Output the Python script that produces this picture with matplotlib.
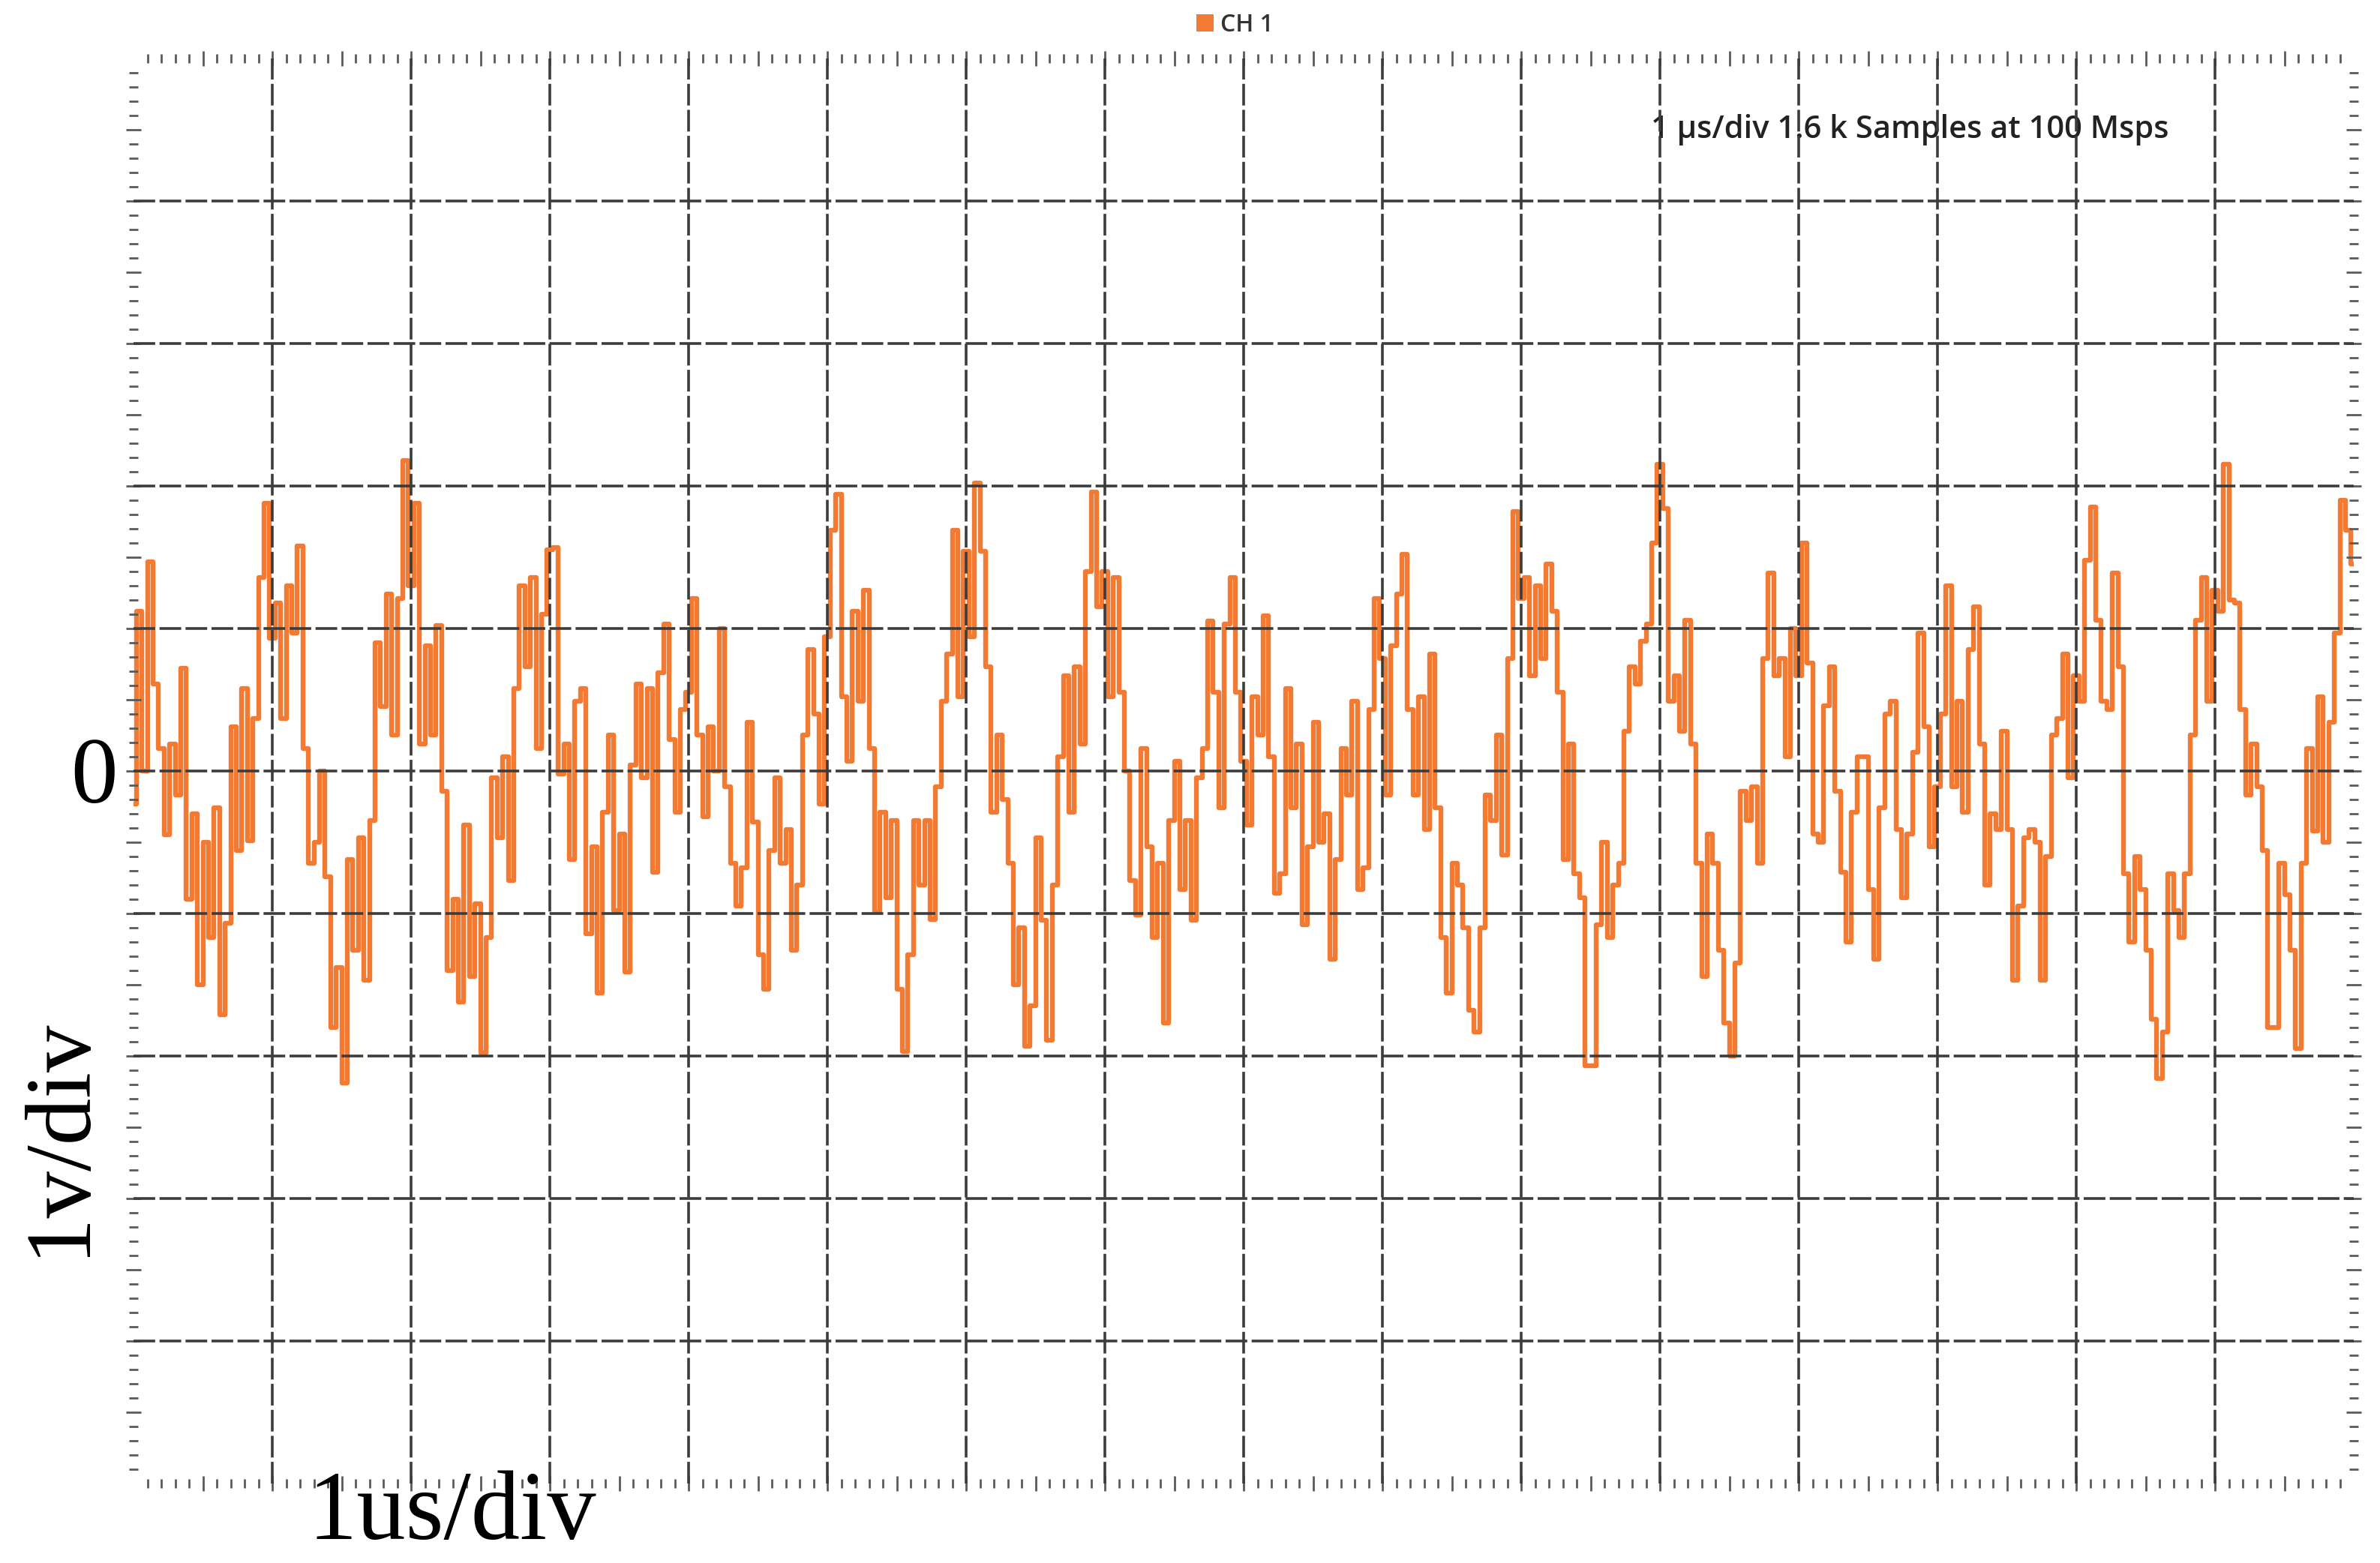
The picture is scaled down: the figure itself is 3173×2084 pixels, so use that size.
import matplotlib
matplotlib.use('Agg')
import matplotlib.pyplot as plt
import numpy as np
from matplotlib.patches import Patch
from matplotlib.ticker import FixedLocator

# CH 1 samples, volts, 25 readings per 1 us division
ch1_0_4us = [
    -0.23, 1.12, 0.0, 1.47, 0.61, 0.16, -0.45, 0.19, -0.17, 0.72, -0.9, -0.3, -1.5,
    -0.5, -1.17, -0.26, -1.71, -1.07, 0.31, -0.56, 0.58, -0.49, 0.37, 1.36, 1.88,
    0.93, 1.18, 0.37, 1.3, 0.97, 1.58, 0.16, -0.65, -0.5, 0.0, -0.74, -1.8, -1.38,
    -2.19, -0.62, -1.26, -0.47, -1.47, -0.35, 0.9, 0.45, 1.24, 0.25, 1.21, 2.18,
    1.3, 1.88, 0.19, 0.88, 0.25, 1.02, -0.14, -1.4, -0.9, -1.62, -0.38, -1.44, -0.93,
    -1.98, -1.17, -0.05, -0.47, 0.1, -0.77, 0.58, 1.3, 0.73, 1.36, 0.16, 1.1,
    1.55, 1.57, -0.02, 0.19, -0.62, 0.49, 0.58, -1.14, -0.53, -1.56, -0.29, 0.25, -0.98,
    -0.44, -1.41, 0.04, 0.61, -0.05, 0.58, -0.71, 0.69, 1.03, 0.22, -0.29, 0.43,
]
ch1_4_8us = [
    0.55, 1.21, 0.25, -0.32, 0.31, 0.0, 1.0, -0.11, -0.65, -0.95, -0.68, 0.34, -0.36,
    -1.29, -1.53, -0.56, -0.05, -0.65, -0.41, -1.26, -0.8, 0.25, 0.85, 0.4, -0.23,
    0.94, 1.69, 1.94, 0.52, 0.07, 1.12, 0.49, 1.27, 0.16, -0.99, -0.29, -0.89, -0.35,
    -1.53, -1.97, -1.29, -0.35, -0.8, -0.35, -1.04, -0.11, 0.49, 0.82, 1.69, 0.52,
    1.54, 0.94, 2.02, 1.54, 0.73, -0.29, 0.25, -0.2, -0.65, -1.5, -1.1, -1.93, -1.65,
    -0.47, -1.05, -1.89, -0.8, 0.1, 0.67, -0.29, 0.73, 0.19, 1.4, 1.96, 1.15,
    1.4, 0.52, 1.36, 0.55, 0.0, -0.77, -1.01, 0.16, -0.53, -1.17, -0.65, -1.77, -0.35,
    0.07, -0.83, -0.35, -1.05, -0.05, 0.16, 1.05, 0.55, -0.26, 1.03, 1.36, 0.55,
]
ch1_8_12us = [
    0.07, -0.38, 0.52, 0.25, 1.09, 0.1, -0.86, -0.72, 0.58, -0.26, 0.19, -1.08, -0.53,
    0.34, -0.5, -0.3, -1.32, -0.62, 0.16, -0.17, 0.49, -0.83, -0.68, 0.43, 1.21,
    0.79, -0.17, 0.88, 1.24, 1.52, 0.43, -0.17, 0.52, -0.41, 0.82, -0.26, -1.17, -1.56,
    -0.65, -0.8, -1.1, -1.68, -1.83, -1.1, -0.17, -0.35, 0.25, -0.59, 0.79, 1.82,
    1.21, 1.36, 0.67, 1.3, 0.79, 1.45, 1.12, 0.55, -0.62, 0.19, -0.72, -0.89, -2.07,
    -2.07, -1.08, -0.5, -1.17, -0.8, -0.65, 0.28, 0.73, 0.61, 0.91, 1.03, 1.6,
    2.15, 1.84, 0.49, 0.67, 0.28, 1.06, 0.19, -0.65, -1.44, -0.44, -0.65, -1.26, -1.77,
    -2.0, -1.35, -0.14, -0.35, -0.11, -0.65, 0.79, 1.39, 0.67, 0.79, 0.1, 1.0,
]
ch1_12_16us = [
    0.67, 1.6, 0.76, -0.44, -0.5, 0.46, 0.73, -0.14, -0.71, -1.2, -0.29, 0.1, 0.1,
    -0.83, -1.32, -0.26, 0.4, 0.49, -0.41, -0.89, -0.44, 0.13, 0.97, 0.31, -0.53,
    -0.11, 0.4, 1.3, -0.11, 0.49, -0.29, 0.85, 1.15, 0.19, -0.8, -0.3, -0.41, 0.28,
    -0.41, -1.47, -0.95, -0.47, -0.41, -0.5, -1.47, -0.6, 0.25, 0.37, 0.82, -0.05,
    0.67, 0.49, 1.48, 1.85, 1.06, 0.49, 0.43, 1.39, 0.73, -0.72, -1.2, -0.6, -0.83,
    -1.26, -1.74, -2.16, -1.83, -0.72, -0.98, -1.17, -0.72, 0.25, 1.06, 1.36, 0.49,
    1.27, 1.12, 2.15, 1.2, 1.18, 0.43, -0.17, 0.19, -0.11, -0.56, -1.8, -1.8, -0.65,
    -0.87, -1.26, -1.95, -0.65, 0.16, -0.42, 0.52, -0.5, 0.34, 0.97, 1.9, 1.69, 1.45,
]

ch1 = np.array(ch1_0_4us + ch1_4_8us + ch1_8_12us + ch1_12_16us)
t_us = np.linspace(0, 16, len(ch1))

ORANGE = '#f27a33'
GRID = '#3c3c3c'

fig = plt.figure(figsize=(15.865, 10.42), dpi=200)
ax = fig.add_axes([0.0561, 0.0509, 0.9329, 0.9117])

ax.plot(t_us, ch1, color=ORANGE, lw=2.3, drawstyle='steps-mid', zorder=1)

# scope graticule
for x in range(1, 16):
    ax.axvline(x, color=GRID, lw=1.3, ls=(0, (8, 1.6)), zorder=2)
for y in range(-4, 5):
    ax.axhline(y, color=GRID, lw=1.3, ls=(0, (8, 1.6)), zorder=2)

ax.set_xlim(0, 16)
ax.set_ylim(-5, 5)
ax.xaxis.set_major_locator(FixedLocator(np.arange(1, 32) * 0.5))
ax.xaxis.set_minor_locator(FixedLocator(np.arange(1, 160) * 0.1))
ax.yaxis.set_major_locator(FixedLocator(np.arange(-9, 10) * 0.5))
ax.yaxis.set_minor_locator(FixedLocator(np.arange(-49, 50) * 0.1))
ax.tick_params(which='both', direction='inout', top=True, right=True,
               labelbottom=False, labelleft=False, color='#5a5a5a', width=1.0)
ax.tick_params(which='major', length=7)
ax.tick_params(which='minor', length=4)
for s in ax.spines.values():
    s.set_visible(False)

ax.text(12.8, 4.5, '1 μs/div 1.6 k Samples at 100 Msps', ha='center', va='center',
        fontsize=15, family='Open Sans', fontweight='semibold', color='#222222',
        zorder=0)

fig.legend(handles=[Patch(facecolor=ORANGE, label='CH 1')], loc='center',
           bbox_to_anchor=(0.519, 0.984), frameon=False, handlelength=0.7,
           handleheight=0.7, handletextpad=0.3, labelcolor='#333333',
           prop={'family': 'Open Sans', 'size': 11.5, 'weight': 'semibold'})

serif = 'Liberation Serif'
fig.text(0.0394, 0.4866, '0', ha='center', va='baseline', fontsize=45, family=serif)
fig.text(0.0252, 0.273, '1v/div', rotation=90, ha='center', va='center',
         fontsize=45, family=serif)
fig.text(0.19, 0.0154, '1us/div', ha='center', va='baseline', fontsize=47, family=serif)

fig.savefig('out.png', dpi=200, facecolor='white')
